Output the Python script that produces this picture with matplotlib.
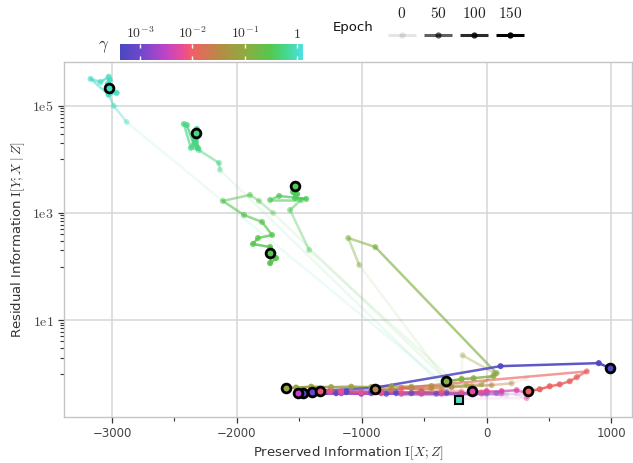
import numpy as np
import matplotlib
matplotlib.use("Agg")
import matplotlib.pyplot as plt
import matplotlib.ticker as mticker
from matplotlib.collections import LineCollection
from matplotlib.colors import LinearSegmentedColormap, LogNorm, to_rgba
from matplotlib.lines import Line2D

plt.rcParams["mathtext.fontset"] = "cm"
plt.rcParams["font.family"] = "DejaVu Sans"

# ---- data: one run per gamma, points ordered by epoch (0 -> 150) ----
g100_x = [-321, -2883, -2987, -3027, -3172, -3092, -3027, -3027, -2963, -3035, -3019, -3027]
g100_y = [0.61, 5.0e4, 1.0e5, 1.61e5, 3.2e5, 2.8e5, 3.5e5, 1.65e5, 1.75e5, 2.55e5, 3.05e5, 2.17e5]

g055_x = [-361, -2136, -2144, -2305, -2369, -2425, -2401, -2345, -2321, -2313, -2337, -2329]
g055_y = [0.61, 6.4e3, 8.6e3, 1.5e4, 1.64e4, 4.6e4, 4.4e4, 1.87e4, 3.7e4, 1.64e4, 2.3e4, 3.1e4]

g035_x = [-241, -1421, -1574, -1486, -1734, -1662, -1445, -1534, -1550, -1518, -1534]
g035_y = [0.66, 203, 1140, 1750, 1750, 2080, 1830, 1900, 2470, 2250, 3200]

g028_x = [-281, -1710, -1823, -1895, -2112, -1943, -1799, -1718, -1831, -1871, -1734, -1686, -1734, -1734, -1734]
g028_y = [0.61, 1000, 1680, 2170, 1680, 918, 680, 388, 341, 264, 231, 144, 116, 158, 179]

g013_x = [-337, -1020, -1108, -891, 80, 56, -104, -200, -321]
g013_y = [0.82, 107, 341, 231, 1.02, 0.90, 0.82, 0.79, 0.72]

g007_x = [-201, -193, 64, -40, -161, -281, -442, -602, -763, -923, -1084, -1245, -1405, -1526, -1606]
g007_y = [0.85, 2.2, 1.02, 0.63, 0.61, 0.58, 0.59, 0.57, 0.58, 0.56, 0.57, 0.56, 0.57, 0.55, 0.54]

g0028_x = [321, 201, 40, -120, -281, -442, -602, -763, -891]
g0028_y = [0.82, 0.66, 0.61, 0.58, 0.56, 0.54, 0.54, 0.51, 0.51]

g0011_x = [-40, -201, -361, -522, -683, 803, 723, 666, 586, 506, 426, 329]
g0011_y = [0.45, 0.47, 0.49, 0.49, 0.54, 1.10, 0.86, 0.72, 0.63, 0.58, 0.51, 0.47]

g0008_x = [120, -40, -201, -361, -522, -683, -843, -1004, -1164, -1261, -1333]
g0008_y = [0.45, 0.45, 0.43, 0.45, 0.43, 0.45, 0.45, 0.45, 0.47, 0.47, 0.47]

g0005_x = [-217, 321, 345, 241, 120, 0, -120]
g0005_y = [0.34, 0.35, 0.42, 0.49, 0.47, 0.47, 0.47]

g0003_x = [281, 120, -40, -201, -361, -522, -683, -843, -1004, -1164, -1325, -1445, -1510]
g0003_y = [0.40, 0.42, 0.42, 0.42, 0.42, 0.42, 0.42, 0.43, 0.42, 0.43, 0.43, 0.43, 0.43]

g00009_x = [241, 80, -120, -321, -522, -723, -923, -1124, -1285, -1397]
g00009_y = [0.42, 0.43, 0.43, 0.43, 0.45, 0.43, 0.43, 0.45, 0.45, 0.45]

g00006_x = [161, 0, -201, -402, -602, -803, -1004, -1205, -1365, -1470]
g00006_y = [0.40, 0.42, 0.43, 0.42, 0.43, 0.42, 0.43, 0.43, 0.43, 0.43]

g00005_x = [-120, -321, -522, -723, -923, -1124, -1325, -1405, -907, 112, 899, 988]
g00005_y = [0.45, 0.45, 0.45, 0.45, 0.47, 0.47, 0.47, 0.47, 0.54, 1.38, 1.57, 1.27]

runs = [
    (1.0, g100_x, g100_y),
    (0.55, g055_x, g055_y),
    (0.35, g035_x, g035_y),
    (0.28, g028_x, g028_y),
    (0.13, g013_x, g013_y),
    (0.07, g007_x, g007_y),
    (0.028, g0028_x, g0028_y),
    (0.0009, g00009_x, g00009_y),
    (0.0006, g00006_x, g00006_y),
    (0.003, g0003_x, g0003_y),
    (0.0005, g00005_x, g00005_y),
    (0.005, g0005_x, g0005_y),
    (0.008, g0008_x, g0008_y),
    (0.011, g0011_x, g0011_y),
]

ref_x, ref_y, ref_gamma = [-217], [0.32], 1.0

epoch_levels = [0, 50, 100, 150]
gamma_ticks = [1e-3, 1e-2, 1e-1, 1]
gamma_tick_labels = [r"$10^{-3}$", r"$10^{-2}$", r"$10^{-1}$", r"$1$"]

# ---- colour scale for gamma ----
cmap = LinearSegmentedColormap.from_list("gamma", [
    (0.00, "#4a48c0"), (0.11, "#6e48cc"), (0.25, "#c044c8"), (0.34, "#e84c98"),
    (0.395, "#f06064"), (0.54, "#b88a44"), (0.68, "#90aa40"), (0.825, "#54c850"),
    (0.91, "#44d890"), (1.00, "#50e0e0")])
norm = LogNorm(10 ** -3.38, 10 ** 0.11)


def epoch_alpha(ep):
    return 0.1 + 0.9 * (np.asarray(ep) / 150.0) ** 0.5


fig = plt.figure(figsize=(6.33, 4.63), dpi=100)
ax = fig.add_axes([64 / 633, 46 / 463, 568 / 633, 355 / 463])

for gamma, xs, ys in runs:
    xs = np.asarray(xs, float)
    ys = np.asarray(ys, float)
    ep = np.linspace(0, 150, len(xs))
    base = np.array(to_rgba(cmap(norm(gamma))))
    cols = np.tile(base, (len(xs), 1))
    cols[:, 3] = epoch_alpha(ep)
    segs = np.stack([np.column_stack([xs[:-1], ys[:-1]]),
                     np.column_stack([xs[1:], ys[1:]])], axis=1)
    ax.add_collection(LineCollection(segs, colors=cols[:-1], linewidths=1.8,
                                     capstyle="round", zorder=2))
    ax.scatter(xs, ys, s=19, c=cols, linewidths=0, zorder=3)

for gamma, xs, ys in runs:
    ax.plot(xs[-1], ys[-1], "o", ms=6.3, mfc=cmap(norm(gamma)), mec="black",
            mew=2.0, zorder=5)
ax.plot(ref_x, ref_y, "s", ms=5.5, mfc=cmap(norm(ref_gamma)), mec="black",
        mew=1.5, zorder=5)

ax.set_yscale("log")
ax.set_xlim(-3385, 1165)
ax.set_ylim(10 ** -0.81, 10 ** 5.82)

ax.xaxis.set_major_locator(mticker.MultipleLocator(1000))
ax.xaxis.set_minor_locator(mticker.FixedLocator([-2500, -1500, -500, 500]))
ax.yaxis.set_major_locator(mticker.FixedLocator([10, 1e3, 1e5]))
ax.yaxis.set_major_formatter(mticker.FixedFormatter(
    [r"$\mathrm{1e1}$", r"$\mathrm{1e3}$", r"$\mathrm{1e5}$"]))
ax.yaxis.set_minor_locator(mticker.FixedLocator(
    [k * 10.0 ** d for d in (0, 2, 4) for k in range(1, 10)]))
ax.yaxis.set_minor_formatter(mticker.NullFormatter())

ax.grid(True, which="major", color="#d6d6d6", linewidth=1.1)
ax.set_axisbelow(True)
for sp in ax.spines.values():
    sp.set_color("#c4c4c4")
    sp.set_linewidth(1.0)
ax.tick_params(which="major", length=4, width=0.9, color="#333333",
               labelsize=8.5, labelcolor="#444444")
ax.tick_params(which="minor", length=3, width=0.8, color="#333333")
ax.tick_params(axis="y", which="major", labelsize=10)

ax.set_xlabel(r"Preserved Information $\mathrm{I}[X;Z]$", fontsize=9.5,
              color="#333333", labelpad=3)
ax.set_ylabel(r"Residual Information $\mathrm{I}[Y;X\mid Z]$", fontsize=9.5,
              color="#333333", labelpad=4)

# ---- gamma colour bar legend ----
cax = fig.add_axes([120 / 633, 1 - 60 / 463, 183 / 633, 16 / 463])
sm = plt.cm.ScalarMappable(norm=norm, cmap=cmap)
cb = fig.colorbar(sm, cax=cax, orientation="horizontal")
cb.outline.set_visible(False)
cb.set_ticks(gamma_ticks)
cb.set_ticklabels(gamma_tick_labels)
cax.xaxis.set_minor_locator(mticker.NullLocator())
cax.xaxis.set_ticks_position("both")
cax.tick_params(axis="x", direction="in", color="white", length=3, width=1,
                labeltop=True, labelbottom=False, labelsize=10,
                labelcolor="#333333", pad=2)
fig.text(104 / 633, 1 - 46 / 463, r"$\gamma$", fontsize=12, ha="center",
         va="center", color="#333333")

# ---- epoch legend ----
fig.text(353 / 633, 1 - 27 / 463, "Epoch", fontsize=9.5, ha="center",
         va="center", color="#111111")
key_left = [388, 424, 460, 496]
for ep, xl in zip(epoch_levels, key_left):
    a = float(epoch_alpha(ep))
    fig.add_artist(Line2D([xl / 633, (xl + 28) / 633], [1 - 35 / 463] * 2,
                          transform=fig.transFigure, color="black", alpha=a,
                          lw=2.2, solid_capstyle="butt"))
    fig.add_artist(Line2D([(xl + 14) / 633], [1 - 35 / 463],
                          transform=fig.transFigure, color="black", alpha=a,
                          marker="o", ms=4.5, mew=0, ls="none"))
    fig.text((xl + 14) / 633, 1 - 14 / 463, r"$%d$" % ep, fontsize=11,
             ha="center", va="center", color="#222222")

fig.savefig("out.png", dpi=100)
